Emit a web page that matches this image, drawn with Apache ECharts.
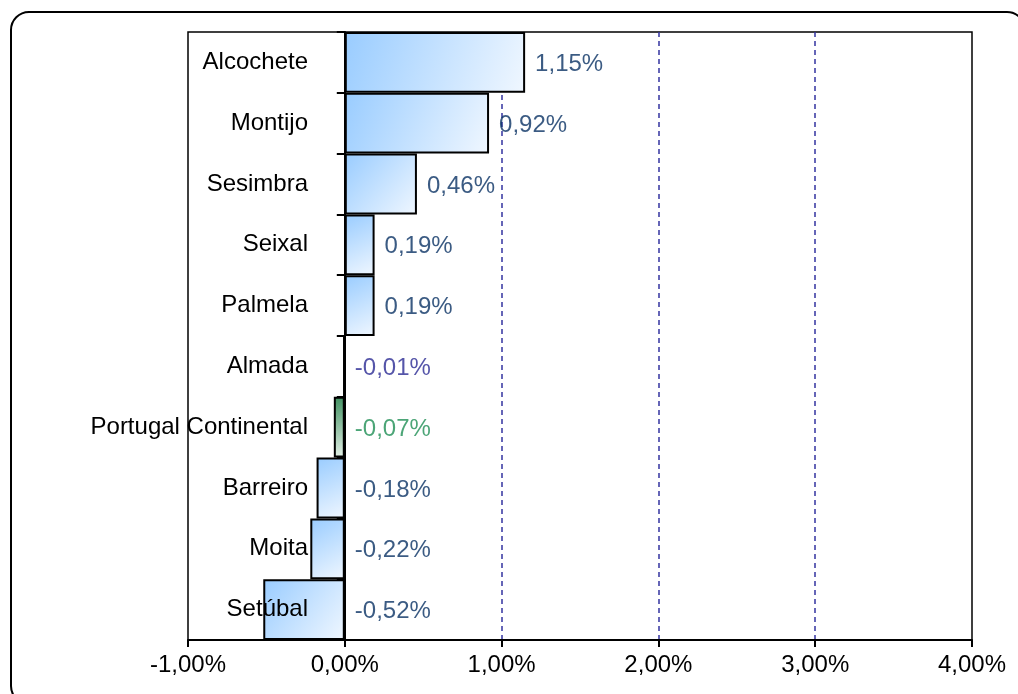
<!DOCTYPE html>
<html>
<head>
<meta charset="utf-8">
<script src="https://cdn.jsdelivr.net/npm/echarts@6/dist/echarts.min.js"></script>
<style>
    html, body { margin: 0; padding: 0; background: #fff; }
    #chart { width: 1018px; height: 694px; }
</style>
</head>
<body>
<div id="chart"></div>
<script>
    // dados (variação em %)
    const categories = ['Alcochete', 'Montijo', 'Sesimbra', 'Seixal', 'Palmela', 'Almada',
        'Portugal Continental', 'Barreiro', 'Moita', 'Setúbal']
    const values = [1.15, 0.92, 0.46, 0.19, 0.19, -0.01, -0.07, -0.18, -0.22, -0.52]
    const axisMin = -1
    const axisMax = 4

    const fmt = v => v.toFixed(2).replace('.', ',') + '%'

    function barColor(name) {
        if (name === 'Portugal Continental') {
            return new echarts.graphic.LinearGradient(0, 0, 1, 1, [
                { offset: 0, color: '#3f8f5f' },
                { offset: 1, color: '#e6f2e9' }
            ])
        }
        return new echarts.graphic.LinearGradient(0, 0, 1, 1, [
            { offset: 0, color: '#99ccff' },
            { offset: 1, color: '#f0f7ff' }
        ])
    }

    function labelColor(name) {
        if (name === 'Almada') return '#2b2b94'
        if (name === 'Portugal Continental') return '#1f8f55'
        return '#0a3264'
    }

    let chart = echarts.init(document.getElementById('chart'))

    let option = {
        animation: false,
        textStyle: { fontFamily: 'Liberation Sans, Arial, sans-serif' },
        grid: {
            left: 188,
            right: 46,
            top: 32,
            bottom: 54,
            containLabel: false,
            outerBoundsMode: 'none',
            show: true,
            borderColor: '#000',
            borderWidth: 1.5
        },
        graphic: [{
            type: 'rect',
            shape: { x: 11, y: 12, width: 1014, height: 692, r: 18 },
            style: { fill: 'none', stroke: '#000', lineWidth: 2 },
            silent: true
        }],
        xAxis: {
            type: 'value',
            min: axisMin,
            max: axisMax,
            interval: 1,
            axisLine: { show: true, onZero: false, lineStyle: { color: '#000', width: 2 } },
            axisTick: { show: true, length: 7, lineStyle: { color: '#000', width: 2 } },
            axisLabel: { fontSize: 24, color: '#000', margin: 13, formatter: fmt },
            splitLine: {
                show: true,
                lineStyle: {
                    type: [5, 4],
                    width: 1.5,
                    color: ['rgba(0,0,0,0)', 'rgba(0,0,0,0)', '#3333a0', '#3333a0', '#3333a0', 'rgba(0,0,0,0)']
                }
            }
        },
        yAxis: {
            type: 'category',
            data: categories,
            inverse: true,
            z: 5,
            axisLine: { show: true, onZero: true, lineStyle: { color: '#000', width: 2 } },
            axisTick: { show: true, length: 8, lineStyle: { color: '#000', width: 2 } },
            // rótulos junto à linha do zero (o eixo está em x = 0)
            axisLabel: { fontSize: 24, color: '#000', margin: -120, padding: [4, 0, 0, 0] },
            splitLine: { show: false }
        },
        series: [
            {
                type: 'bar',
                barCategoryGap: 0,
                data: values.map((v, i) => ({
                    value: v,
                    itemStyle: { color: barColor(categories[i]) }
                })),
                itemStyle: { borderColor: '#000', borderWidth: 2 },
                z: 2
            },
            {
                // rótulos de valor, à direita da barra (ou do zero, se negativo)
                type: 'scatter',
                symbolSize: 0,
                silent: true,
                data: values.map((v, i) => ({
                    value: [Math.max(v, 0), categories[i]],
                    label: {
                        show: true,
                        position: 'right',
                        distance: 10,
                        offset: [0, 2],
                        fontSize: 24,
                        color: labelColor(categories[i]),
                        formatter: () => fmt(v)
                    }
                })),
                z: 3
            }
        ]
    }

    chart.setOption(option)
</script>
</body>
</html>
